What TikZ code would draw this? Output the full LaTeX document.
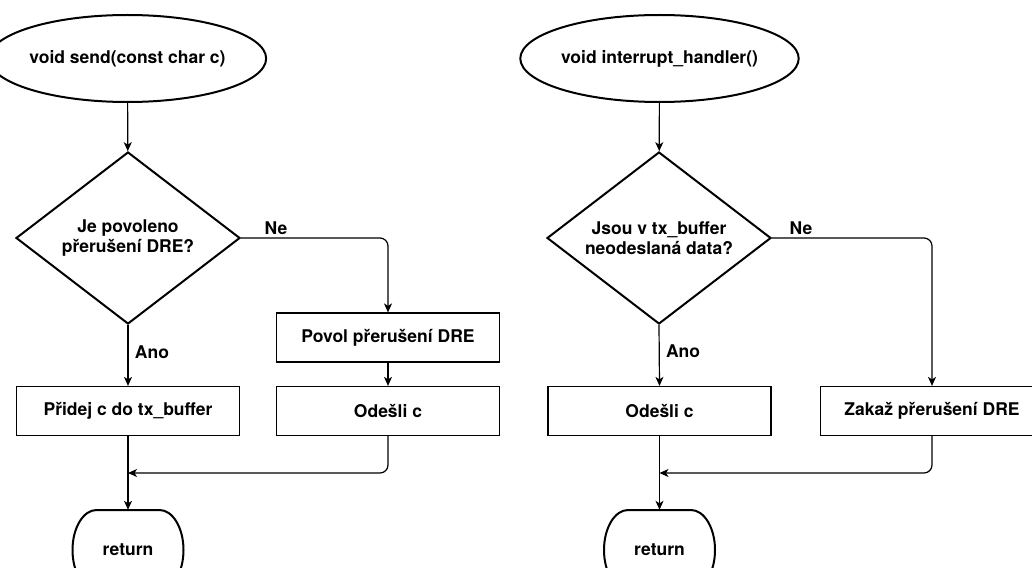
\documentclass[tikz,border=0pt]{standalone}
\usepackage{fontspec}
\setmainfont{TeX Gyre Heros}
\usetikzlibrary{shapes.geometric,arrows.meta}
\newcommand\termborder[2]{%
\draw[endborder] ({#1-31.5},{#2-40}) -- ({#1+31.5},{#2-40})
 .. controls ({#1+44.75},{#2-40}) and ({#1+55.5},{#2-22.1}) .. ({#1+55.5},{#2})
 .. controls ({#1+55.5},{#2+22.1}) and ({#1+44.75},{#2+40}) .. ({#1+31.5},{#2+40})
 -- ({#1-31.5},{#2+40})
 .. controls ({#1-44.75},{#2+40}) and ({#1-55.5},{#2+22.1}) .. ({#1-55.5},{#2})
 .. controls ({#1-55.5},{#2-22.1}) and ({#1-44.75},{#2-40}) .. ({#1-31.5},{#2-40}) -- cycle;}
\begin{document}
\begin{tikzpicture}[x=1pt,y=-1pt,
  every node/.style={font=\bfseries\fontsize{17.5}{20}\selectfont, inner sep=0pt},
  startnode/.style={draw, line width=2pt, ellipse, minimum width=236pt, minimum height=87pt},
  decision/.style={draw, line width=2pt, diamond, aspect=1.3, minimum width=224pt, minimum height=172pt, align=center},
  procbox/.style={draw, line width=1.2pt, minimum width=223pt, minimum height=49pt},
  endnode/.style={minimum width=111pt, minimum height=80pt},
  endborder/.style={draw, line width=2pt},
  conn/.style={line width=1.2pt, rounded corners=8pt, -{Stealth[length=9pt,width=8pt,inset=2.5pt]}},
  lbl/.style={}
]
\useasboundingbox (0,0) rectangle (1032,567);
\clip (0,0) rectangle (1032,567);

% left flow
\node[startnode] (s1) at (127.5,58.5) {void send(const char c)};
\node[decision] (d1) at (128,238) {Je povoleno\\přerušení DRE?};
\node[procbox] (p1) at (388,337.5) {Povol přerušení DRE};
\node[procbox] (o1) at (388,411) {Odešli c};
\node[procbox] (a1) at (128,411) {Přidej c do tx\_buffer};
\node[endnode] (r1) at (128,550) {return};
\termborder{128}{550}
\coordinate (m1) at (128,473);
\node[lbl] (ne1) at (276,228) {Ne};
\node[lbl] (an1) at (152,352) {Ano};

\draw[conn] (s1) -- (d1);
\draw[conn] (d1.east) -| (p1.north);
\draw[conn] (p1) -- (o1);
\draw[conn] (d1.south) -- (a1.north);
\draw[conn] (a1.south) -- (r1.north);
\draw[conn] (o1.south) |- (m1);

% right flow
\node[startnode] (s2) at (659.5,58.5) {void interrupt\_handler()};
\node[decision] (d2) at (659,238) {Jsou v tx\_buffer\\neodeslaná data?};
\node[procbox] (o2) at (659.5,411) {Odešli c};
\node[procbox] (z2) at (932,411) {Zakaž přerušení DRE};
\node[endnode] (r2) at (659.5,550) {return};
\termborder{659.5}{550}
\coordinate (m2) at (659.5,473);
\node[lbl] (ne2) at (801,228) {Ne};
\node[lbl] (an2) at (683,351) {Ano};

\draw[conn] (s2) -- (d2);
\draw[conn] (d2.east) -| (z2.north);
\draw[conn] (d2.south) -- (o2.north);
\draw[conn] (o2.south) -- (r2.north);
\draw[conn] (z2.south) |- (m2);
\end{tikzpicture}
\end{document}
